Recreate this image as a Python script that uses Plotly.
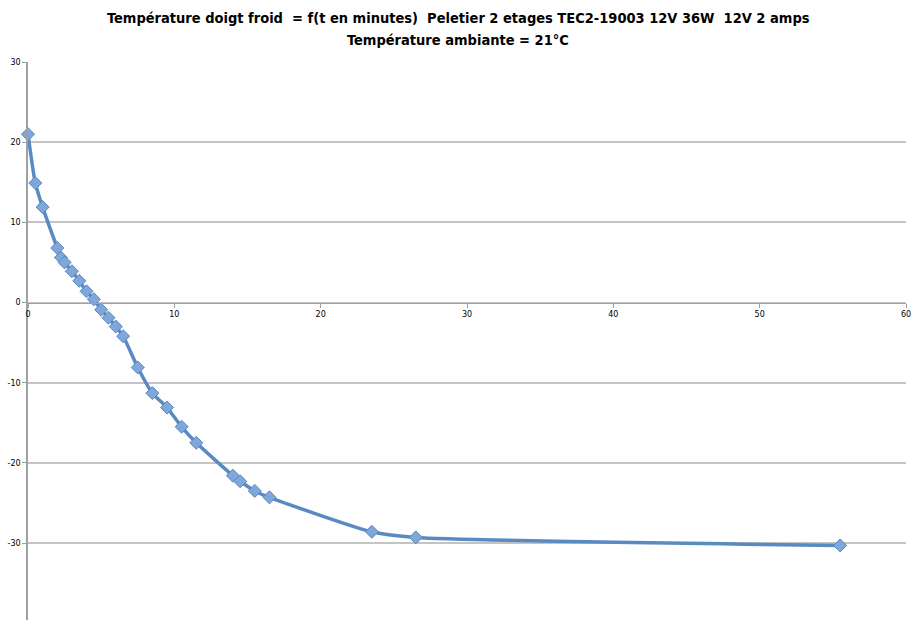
import plotly.graph_objects as go

t_minutes = [0, 0.5, 1, 2, 2.25, 2.5, 3, 3.5, 4, 4.5, 5, 5.5, 6, 6.5, 7.5, 8.5,
             9.5, 10.5, 11.5, 14, 14.5, 15.5, 16.5, 23.5, 26.5, 55.5]
temperature = [21.0, 14.9, 11.9, 6.8, 5.6, 5.0, 3.9, 2.7, 1.4, 0.4, -0.9, -1.9, -3.0,
               -4.2, -8.1, -11.3, -13.1, -15.5, -17.5, -21.6, -22.3, -23.5, -24.3,
               -28.6, -29.3, -30.3]

x_ticks = [0, 10, 20, 30, 40, 50, 60]
y_ticks = [-30, -20, -10, 0, 10, 20, 30]
y_tick_labels = ["-30", "-20", "-10", "0", "10", "20", "30"]

title_line1 = "Température doigt froid  = f(t en minutes)  Peletier 2 etages TEC2-19003 12V 36W  12V 2 amps"
title_line2 = "Température ambiante = 21°C"

y_min, y_max = -39.6, 30

fig = go.Figure()
fig.add_trace(go.Scatter(
    x=t_minutes, y=temperature, mode="lines+markers",
    line=dict(color="#5A8AC4", width=3.5, shape="spline", smoothing=0.6),
    marker=dict(symbol="diamond", size=10, color="#7FA7DB",
                line=dict(color="#5A86BE", width=1)),
    showlegend=False, cliponaxis=False,
))

title_font = dict(family="DejaVu Sans Condensed", size=14.5, color="#000000", weight="bold")
fig.add_annotation(text=title_line1, xref="paper", yref="paper", x=0.5, y=1,
                   xshift=-9, yshift=44, xanchor="center", yanchor="middle", showarrow=False,
                   font=title_font)
fig.add_annotation(text=title_line2, xref="paper", yref="paper", x=0.5, y=1,
                   xshift=-9, yshift=22, xanchor="center", yanchor="middle", showarrow=False,
                   font=title_font)

fig.update_layout(
    width=917, height=620,
    margin=dict(l=28, r=11, t=62, b=0, autoexpand=False),
    paper_bgcolor="white", plot_bgcolor="white",
    xaxis=dict(range=[0, 60], tickvals=x_ticks, showgrid=False, zeroline=False,
               anchor="free", position=(0 - y_min) / (y_max - y_min), automargin=False,
               ticklabeloverflow="allow",
               showline=True, linecolor="#a0a0a0", linewidth=1,
               ticks="outside", ticklen=4, tickcolor="#a0a0a0",
               tickfont=dict(family="DejaVu Sans", size=8, color="#000000")),
    yaxis=dict(range=[y_min, y_max], tickvals=y_ticks, ticktext=y_tick_labels,
               showgrid=True, automargin=False,
               gridcolor="#c4c4c4", gridwidth=1.5, zeroline=False,
               showline=True, linecolor="#a0a0a0", linewidth=1.5,
               ticks="outside", ticklen=4, tickcolor="#a0a0a0",
               tickfont=dict(family="DejaVu Sans", size=8, color="#000000")),
)

fig.write_html("out.html", config={"displayModeBar": False},
               post_script="document.body.style.margin='0';document.body.style.overflow='hidden';")
